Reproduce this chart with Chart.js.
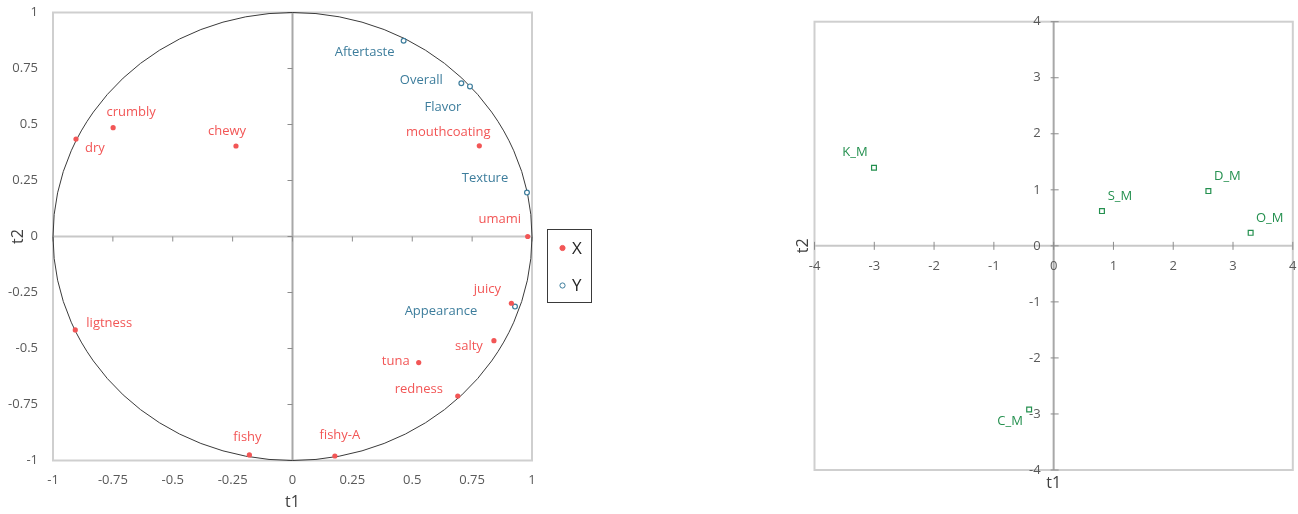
<!DOCTYPE html>
<html>
<head>
<meta charset="utf-8">
<script src="https://cdn.jsdelivr.net/npm/chart.js@4.4.1/dist/chart.umd.min.js"></script>
<style>
  html, body { margin: 0; padding: 0; background: #fff; width: 1298px; height: 514px; overflow: hidden; }
  #wrapCorr { position: absolute; left: 0; top: 0; width: 600px; height: 514px; }
  #wrapObs { position: absolute; left: 780px; top: 0; width: 518px; height: 514px; }
</style>
</head>
<body>
<div id="wrapCorr"><canvas id="corr" width="600" height="514"></canvas></div>
<div id="wrapObs"><canvas id="obs" width="518" height="514"></canvas></div>
<script>
// ---- Correlation circle: X variables (sensory attributes) ----
const xNames = ['dry', 'crumbly', 'chewy', 'mouthcoating', 'umami', 'ligtness', 'fishy', 'juicy', 'salty', 'tuna', 'redness', 'fishy-A'];
const xT1 = [-0.904, -0.749, -0.236, 0.780, 0.982, -0.907, -0.180, 0.914, 0.841, 0.527, 0.690, 0.177];
const xT2 = [0.435, 0.486, 0.404, 0.405, 0.000, -0.417, -0.975, -0.298, -0.465, -0.563, -0.712, -0.980];

// ---- Correlation circle: Y variables (liking scores) ----
const yNames = ['Aftertaste', 'Overall', 'Flavor', 'Texture', 'Appearance'];
const yT1 = [0.464, 0.705, 0.741, 0.979, 0.929];
const yT2 = [0.874, 0.684, 0.670, 0.196, -0.313];

// ---- Observation scores ----
const obsNames = ['K_M', 'S_M', 'D_M', 'O_M', 'C_M'];
const obsT1 = [-3.005, 0.808, 2.588, 3.295, -0.41];
const obsT2 = [1.393, 0.62, 0.977, 0.232, -2.92];

// ---- Tick values ----
const circleTicks = [-1, -0.75, -0.5, -0.25, 0, 0.25, 0.5, 0.75, 1];
const obsTicks = [-4, -3, -2, -1, 0, 1, 2, 3, 4];

// label placement (pixel offset of the label centre from its marker)
const xLabelOffset = [[19, 9], [18, -15], [-9, -15], [-31, -13], [-28, -17], [34, -7], [-2, -18], [-24, -14], [-25, 6], [-23, -1], [-39, -7], [5, -21]];
const yLabelOffset = [[-39, 12], [-40, -3], [-27, 21], [-42, -14], [-74, 5]];
const obsLabelOffset = [[-19, -15], [18, -15], [19, -15], [19, -15], [-19, 12]];

const FONT = '"Open Sans", "Noto Sans", "DejaVu Sans", sans-serif';
const RED = '#f25656';
const BLUE = '#3d7d9c';
const GREEN = '#24904f';
const TICK_TXT = '#595959';

const toPts = (xs, ys) => xs.map((v, i) => ({ x: v, y: ys[i] }));

function font(size) { return size + 'px ' + FONT; }

function drawFrame(ctx, area, sx, sy, o) {
  const x0 = sx.getPixelForValue(0), y0 = sy.getPixelForValue(0);
  ctx.save();
  // outer box
  ctx.strokeStyle = '#cfcfcf';
  ctx.lineWidth = 2;
  ctx.strokeRect(area.left, area.top, area.right - area.left, area.bottom - area.top);
  // zero lines
  ctx.lineWidth = 2;
  ctx.strokeStyle = '#c8c8c8';
  ctx.beginPath(); ctx.moveTo(area.left, y0); ctx.lineTo(area.right, y0); ctx.stroke();
  ctx.strokeStyle = '#a8a8a8';
  ctx.beginPath(); ctx.moveTo(x0, area.top); ctx.lineTo(x0, area.bottom); ctx.stroke();
  // tick marks on the zero lines
  ctx.lineWidth = 1;
  ctx.strokeStyle = '#8c8c8c';
  o.ticks.forEach(v => {
    const px = sx.getPixelForValue(v);
    ctx.beginPath(); ctx.moveTo(px, y0 - o.tickUp); ctx.lineTo(px, y0 + o.tickDown); ctx.stroke();
    const py = sy.getPixelForValue(v);
    ctx.beginPath(); ctx.moveTo(x0 - o.tickLeft, py); ctx.lineTo(x0 + o.tickRight, py); ctx.stroke();
  });
  ctx.restore();
}

function drawNames(ctx, sx, sy, names, xs, ys, offs, color) {
  ctx.save();
  ctx.font = font(13);
  ctx.fillStyle = color;
  ctx.textAlign = 'center';
  ctx.textBaseline = 'middle';
  names.forEach((n, i) => {
    ctx.fillText(n, sx.getPixelForValue(xs[i]) + offs[i][0], sy.getPixelForValue(ys[i]) + offs[i][1]);
  });
  ctx.restore();
}

function tickText(v) { return String(v); }

// ---------- Correlation circle ----------
const corrPlugin = {
  id: 'corrDecor',
  beforeDatasetsDraw(chart) {
    const { ctx, chartArea: a, scales: { x, y } } = chart;
    drawFrame(ctx, a, x, y, { ticks: circleTicks, tickUp: 0, tickDown: 5, tickLeft: 5, tickRight: 0 });
    // unit circle
    const cx = x.getPixelForValue(0), cy = y.getPixelForValue(0);
    ctx.save();
    ctx.strokeStyle = '#3a3a3a';
    ctx.lineWidth = 1;
    ctx.beginPath();
    ctx.ellipse(cx, cy, x.getPixelForValue(1) - cx, cy - y.getPixelForValue(1), 0, 0, Math.PI * 2);
    ctx.stroke();
    ctx.restore();
  },
  afterDatasetsDraw(chart) {
    const { ctx, chartArea: a, scales: { x, y } } = chart;
    drawNames(ctx, x, y, xNames, xT1, xT2, xLabelOffset, RED);
    drawNames(ctx, x, y, yNames, yT1, yT2, yLabelOffset, BLUE);
    ctx.save();
    ctx.font = font(13);
    ctx.fillStyle = TICK_TXT;
    ctx.textBaseline = 'middle';
    ctx.textAlign = 'center';
    circleTicks.forEach(v => ctx.fillText(tickText(v), x.getPixelForValue(v), a.bottom + 20));
    ctx.textAlign = 'right';
    circleTicks.forEach(v => ctx.fillText(tickText(v), a.left - 15, y.getPixelForValue(v)));
    // axis titles
    ctx.font = font(16);
    ctx.fillStyle = '#404040';
    ctx.textAlign = 'center';
    ctx.fillText('t1', x.getPixelForValue(0), a.bottom + 42);
    ctx.save();
    ctx.translate(18, y.getPixelForValue(0));
    ctx.rotate(-Math.PI / 2);
    ctx.fillText('t2', 0, 0);
    ctx.restore();
    // legend
    ctx.strokeStyle = '#3a3a3a';
    ctx.lineWidth = 1;
    ctx.strokeRect(547.5, 229.5, 44, 73);
    const items = chart.data.datasets;
    ctx.font = font(17);
    ctx.fillStyle = '#262626';
    ctx.textAlign = 'left';
    items.forEach((ds, i) => {
      const ly = 248 + i * 37.5;
      ctx.beginPath();
      ctx.arc(562.5, ly, 2.6, 0, Math.PI * 2);
      ctx.fillStyle = ds.backgroundColor;
      ctx.fill();
      ctx.lineWidth = 1;
      ctx.strokeStyle = ds.borderColor;
      ctx.stroke();
      ctx.fillStyle = '#262626';
      ctx.fillText(ds.label, 572, ly + 1);
    });
    ctx.restore();
  }
};

new Chart(document.getElementById('corr'), {
  type: 'scatter',
  data: {
    datasets: [
      { label: 'X', data: toPts(xT1, xT2), pointStyle: 'circle', pointRadius: 2.6, backgroundColor: RED, borderColor: RED, borderWidth: 0, clip: false },
      { label: 'Y', data: toPts(yT1, yT2), pointStyle: 'circle', pointRadius: 2.4, backgroundColor: '#ffffff', borderColor: BLUE, borderWidth: 1.2, clip: false }
    ]
  },
  options: {
    responsive: false,
    animation: false,
    devicePixelRatio: 1,
    layout: { padding: { left: 53, right: 68, top: 12.5, bottom: 53.5 } },
    scales: {
      x: { type: 'linear', min: -1, max: 1, display: false },
      y: { type: 'linear', min: -1, max: 1, display: false }
    },
    plugins: { legend: { display: false }, tooltip: { enabled: false } }
  },
  plugins: [corrPlugin]
});

// ---------- Observation map ----------
const obsPlugin = {
  id: 'obsDecor',
  beforeDatasetsDraw(chart) {
    const { ctx, chartArea: a, scales: { x, y } } = chart;
    drawFrame(ctx, a, x, y, { ticks: obsTicks, tickUp: 4, tickDown: 4, tickLeft: 3, tickRight: 5 });
  },
  afterDatasetsDraw(chart) {
    const { ctx, chartArea: a, scales: { x, y } } = chart;
    drawNames(ctx, x, y, obsNames, obsT1, obsT2, obsLabelOffset, GREEN);
    const x0 = x.getPixelForValue(0), y0 = y.getPixelForValue(0);
    ctx.save();
    ctx.font = font(13);
    ctx.fillStyle = TICK_TXT;
    ctx.textBaseline = 'middle';
    ctx.textAlign = 'center';
    obsTicks.forEach(v => ctx.fillText(tickText(v), x.getPixelForValue(v), y0 + 20));
    ctx.textAlign = 'right';
    obsTicks.forEach(v => ctx.fillText(tickText(v), x0 - 13, y.getPixelForValue(v)));
    ctx.font = font(16);
    ctx.fillStyle = '#404040';
    ctx.textAlign = 'center';
    ctx.fillText('t1', x0, a.bottom + 13);
    ctx.save();
    ctx.translate(23, y0);
    ctx.rotate(-Math.PI / 2);
    ctx.fillText('t2', 0, 0);
    ctx.restore();
    ctx.restore();
  }
};

new Chart(document.getElementById('obs'), {
  type: 'scatter',
  data: {
    datasets: [
      { label: 'Obs', data: toPts(obsT1, obsT2), pointStyle: 'rect', pointRadius: 3.4, backgroundColor: '#ffffff', borderColor: GREEN, borderWidth: 1.2, clip: false }
    ]
  },
  options: {
    responsive: false,
    animation: false,
    devicePixelRatio: 1,
    layout: { padding: { left: 34.5, right: 4, top: 21.7, bottom: 44 } },
    scales: {
      x: { type: 'linear', min: -4, max: 4, display: false },
      y: { type: 'linear', min: -4, max: 4, display: false }
    },
    plugins: { legend: { display: false }, tooltip: { enabled: false } }
  },
  plugins: [obsPlugin]
});
</script>
</body>
</html>
